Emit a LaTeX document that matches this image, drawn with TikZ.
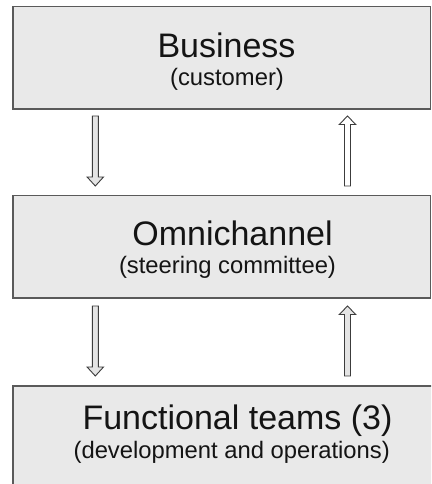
\documentclass[tikz,border=0pt]{standalone}
\usepackage{fontspec}
\setmainfont{Liberation Sans}
\usetikzlibrary{calc}
\definecolor{boxfill}{HTML}{E9E9E9}
\definecolor{boxline}{HTML}{5A5A5A}
\definecolor{arrowline}{HTML}{3C3C3C}
\definecolor{arrowfill}{HTML}{E4E4E4}
\begin{document}
\begin{tikzpicture}[x=1pt,y=1pt,
  levelbox/.style={draw=boxline,fill=boxfill,line width=1.4pt},
  titletext/.style={anchor=base,inner sep=0pt,font=\fontsize{34}{38}\selectfont,text=black!92},
  subtext/.style={anchor=base,inner sep=0pt,font=\fontsize{23.8}{27}\selectfont,text=black!92},
  blockarrow/.style={draw=arrowline,line width=0.9pt,line join=miter,fill=arrowfill}]
\useasboundingbox (0,0) rectangle (431,484);
\clip (0,0) rectangle (431,484);

% three levels
\draw[levelbox] (13,477.5) rectangle (430.5,375);
\draw[levelbox] (13,288.7) rectangle (430.5,186);
\draw[levelbox] (13,98) rectangle (440,-10);

\node[titletext] (business) at (226.5,426.7) {Business};
\node[subtext] (customer) at (227,398.3) {(customer)};
\node[titletext] (omni) at (232.5,238.3) {Omnichannel};
\node[subtext] (steering) at (227.5,210) {(steering committee)};
\node[titletext] (functional) at (237.5,54.7) {Functional teams (3)};
\node[subtext] (devops) at (231.7,25) {(development and operations)};

% arrow end points
\coordinate (d1s) at (95.3,368);
\coordinate (d1e) at (95.3,298);
\coordinate (u1s) at (347.5,298);
\coordinate (u1e) at (347.5,368);
\coordinate (d2s) at (95.3,178);
\coordinate (d2e) at (95.3,108);
\coordinate (u2s) at (347.5,108);
\coordinate (u2e) at (347.5,178);

% downward block arrows
\foreach \s/\e in {d1s/d1e,d2s/d2e}{
  \draw[blockarrow] ($(\s)+(-3,0)$) -- ($(\e)+(-3,9)$) -- ($(\e)+(-8.2,9)$) -- (\e)
    -- ($(\e)+(8.2,9)$) -- ($(\e)+(3,9)$) -- ($(\s)+(3,0)$) -- cycle;
}
% upward block arrows
\draw[blockarrow,fill=white] ($(u1s)+(-3,0)$) -- ($(u1e)+(-3,-8.5)$) -- ($(u1e)+(-8.2,-8.5)$) -- (u1e)
    -- ($(u1e)+(8.2,-8.5)$) -- ($(u1e)+(3,-8.5)$) -- ($(u1s)+(3,0)$) -- cycle;
\draw[blockarrow] ($(u2s)+(-3,0)$) -- ($(u2e)+(-3,-8.5)$) -- ($(u2e)+(-8.2,-8.5)$) -- (u2e)
    -- ($(u2e)+(8.2,-8.5)$) -- ($(u2e)+(3,-8.5)$) -- ($(u2s)+(3,0)$) -- cycle;
\end{tikzpicture}
\end{document}
